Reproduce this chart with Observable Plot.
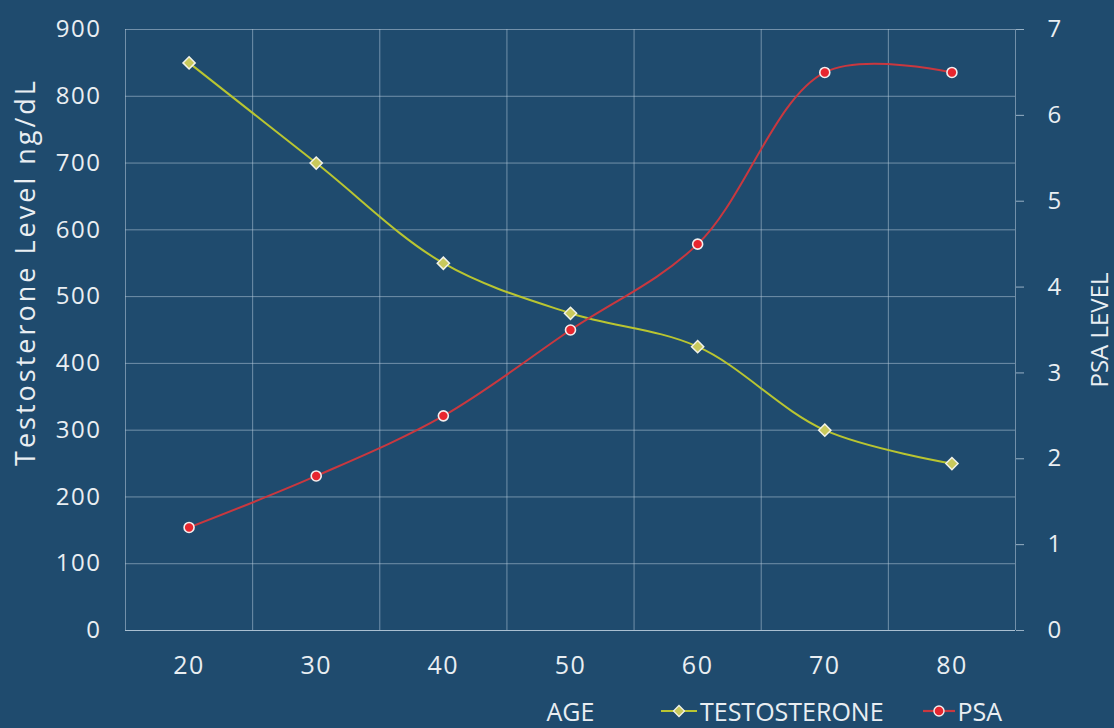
<!DOCTYPE html>
<html>
<head>
<meta charset="utf-8">
<script src="https://cdn.jsdelivr.net/npm/d3@7"></script>
<script src="https://cdn.jsdelivr.net/npm/@observablehq/plot@0.6"></script>
<style>
  html, body { margin: 0; padding: 0; background: #1f4b6e; }
  #wrap { position: relative; width: 1114px; height: 728px; overflow: hidden; background: #1f4b6e; font-family: "Open Sans", sans-serif; }
  #wrap svg { display: block; }
  #wrap svg g[aria-label="y-axis tick label"] text,
  #wrap svg g[aria-label="x-axis tick label"] text { letter-spacing: 1.5px; }
  #wrap svg g[aria-label="text"] text { letter-spacing: 3px; }
  .legend { position: absolute; top: 694px; left: 660px; display: flex; align-items: center; color: #e9eef2; font-size: 25px; line-height: 34px; white-space: nowrap; }
  .legend .item { display: flex; align-items: center; margin-right: 38px; }
  .legend svg { margin-right: 2px; }
</style>
</head>
<body>
<div id="wrap"></div>
<script>
// ---- data ----
const ages = [20, 30, 40, 50, 60, 70, 80];
const testosterone = [850, 700, 550, 475, 425, 300, 250];
const psa = [1.2, 1.8, 2.5, 3.5, 4.5, 6.5, 6.5];
const leftTicks = [0, 100, 200, 300, 400, 500, 600, 700, 800, 900];
const rightTicks = [0, 1, 2, 3, 4, 5, 6, 7];
const ageGrid = [15, 25, 35, 45, 55, 65, 75, 85];
const leftMax = 900;
const rightMax = 7;

const k = leftMax / rightMax;
const rows = ages.map((a, i) => ({ age: a, t: testosterone[i], psa: psa[i] * k }));

const textColor = "#e9eef2";
const gridColor = "#b7cadb";
const tColor = "#b9c531";
const pColor = "#c9383f";

const chart = Plot.plot({
  width: 1114,
  height: 728,
  marginLeft: 125,
  marginRight: 99,
  marginTop: 29,
  marginBottom: 98,
  style: { background: "transparent", color: textColor, fontFamily: "Open Sans, sans-serif", fontSize: "24px" },
  x: { domain: [ageGrid[0], ageGrid[ageGrid.length - 1]] },
  y: { domain: [0, leftMax] },
  marks: [
    Plot.gridY(leftTicks, { stroke: gridColor, strokeOpacity: 0.55, strokeWidth: 1 }),
    Plot.gridX(ageGrid, { stroke: gridColor, strokeOpacity: 0.55, strokeWidth: 1 }),
    Plot.ruleY([0], { stroke: gridColor, strokeOpacity: 0.8 }),
    Plot.axisY(leftTicks, { anchor: "left", tickSize: 0, tickPadding: 24, label: null, fill: textColor, fontSize: 24 }),
    Plot.text(["Testosterone Level ng/dL"], { frameAnchor: "left", textAnchor: "middle", rotate: -90, dx: -99, dy: -58, fill: textColor, fontSize: 27 }),
    Plot.axisY(rightTicks.map(d => d * k), { anchor: "right", tickSize: 8, tickPadding: 24, stroke: gridColor, strokeOpacity: 0.8, tickFormat: v => Math.round(v / k), label: "PSA LEVEL", labelAnchor: "center", labelArrow: "none", labelOffset: 92, fill: textColor, fontSize: 24 }),
    Plot.axisX(ages, { anchor: "bottom", tickSize: 0, tickPadding: 26, label: "AGE", labelAnchor: "center", labelArrow: "none", labelOffset: 90, fill: textColor, fontSize: 25 }),
    Plot.line(rows, { x: "age", y: "t", curve: "catmull-rom", stroke: tColor, strokeWidth: 2 }),
    Plot.line(rows, { x: "age", y: "psa", curve: "catmull-rom", stroke: pColor, strokeWidth: 2 }),
    Plot.dot(rows, { x: "age", y: "t", symbol: "diamond2", r: 5.5, fill: "#c9c95c", stroke: "#f2f2e8", strokeWidth: 1.5 }),
    Plot.dot(rows, { x: "age", y: "psa", r: 5, fill: "#e8262f", stroke: "#f4eeee", strokeWidth: 1.6 })
  ]
});

const wrap = document.getElementById("wrap");
wrap.appendChild(chart);

const legend = document.createElement("div");
legend.className = "legend";
legend.innerHTML = `
  <span class="item"><svg width="38" height="14"><line x1="1" y1="7" x2="37" y2="7" stroke="${tColor}" stroke-width="2.2"/><path d="M19,1.5 L24.5,7 L19,12.5 L13.5,7 Z" fill="#c9c95c" stroke="#f2f2e8" stroke-width="1.3"/></svg>TESTOSTERONE</span>
  <span class="item"><svg width="34" height="14"><line x1="1" y1="7" x2="33" y2="7" stroke="${pColor}" stroke-width="2.2"/><circle cx="17" cy="7" r="5" fill="#e8262f" stroke="#f4eeee" stroke-width="1.4"/></svg>PSA</span>`;
wrap.appendChild(legend);
</script>
</body>
</html>
